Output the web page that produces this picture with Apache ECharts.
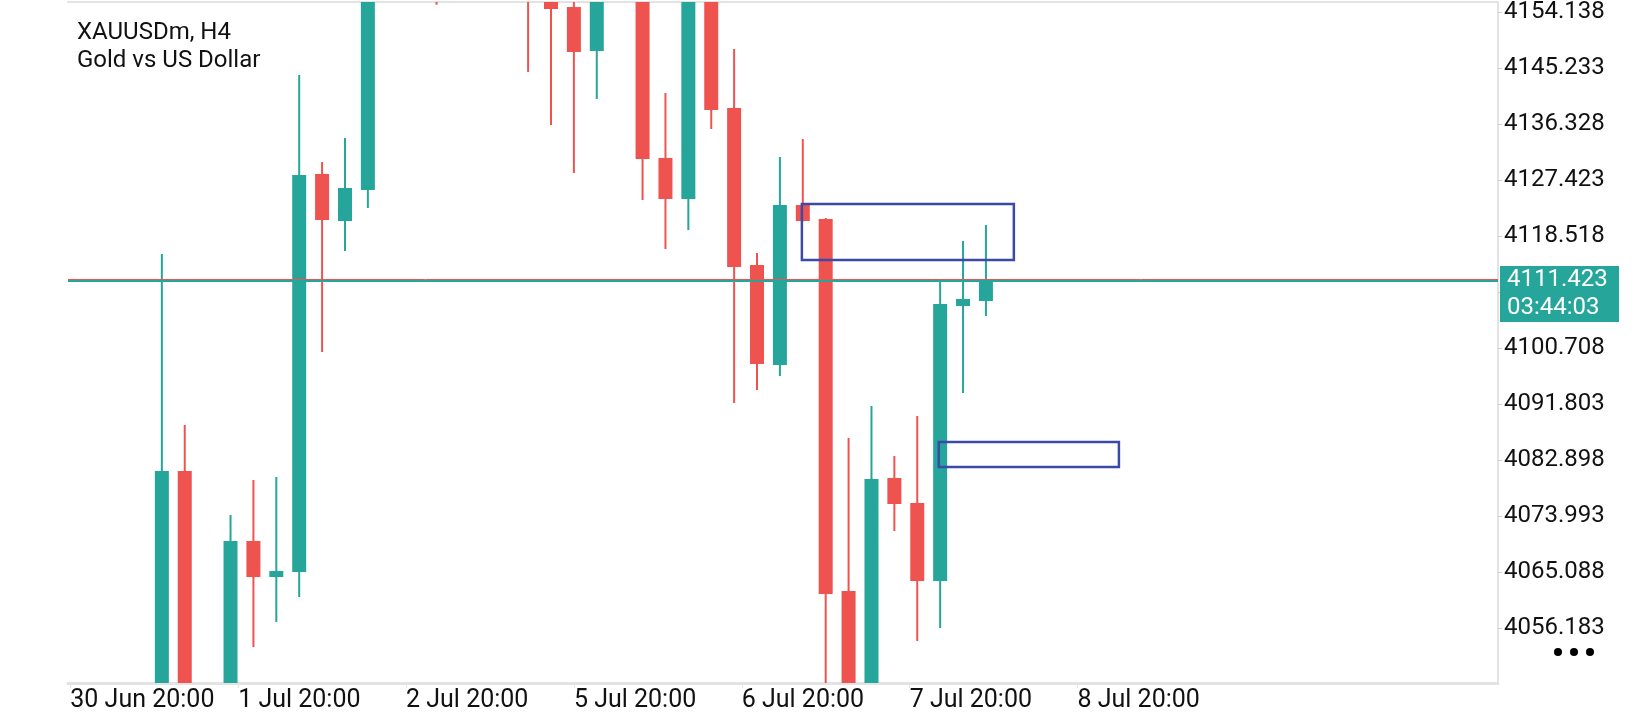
<!DOCTYPE html>
<html>
<head>
<meta charset="utf-8">
<title>XAUUSDm, H4</title>
<script src="https://cdn.jsdelivr.net/npm/echarts@6.0.0/dist/echarts.min.js"></script>
<style>
html, body { margin: 0; padding: 0; background: #fff; }
#chart { width: 1640px; height: 720px; }
</style>
</head>
<body>
<div id="chart"></div>
<script>
var dom = document.getElementById('chart');
var myChart = echarts.init(dom);

// H4 bar slots, counted from the left edge of the chart
var barSlot    = [4, 5, 7, 8, 9, 10, 11, 12, 13, 16, 20, 21, 22, 23, 25, 26, 27, 28, 29, 30, 31, 32, 33, 34, 35, 36, 37, 38, 39, 40];
var openPrice  = [4038, 4081.15, 4044, 4070.02, 4064.29, 4065.09, 4128.38, 4120.90, 4125.83, 4165, 4170, 4162, 4154.93, 4147.94, 4158, 4130.92, 4124.40, 4158, 4138.87, 4113.91, 4098.01, 4123.45, 4121.22, 4062.07, 4040, 4080.04, 4076.06, 4063.66, 4107.39, 4108.18];
var closePrice = [4081.15, 4040, 4070.02, 4064.29, 4065.25, 4128.22, 4121.06, 4126.15, 4158, 4160, 4158, 4154.62, 4147.78, 4160, 4130.76, 4124.40, 4160, 4138.56, 4113.59, 4098.16, 4123.45, 4120.90, 4061.59, 4038, 4079.88, 4075.90, 4063.66, 4107.71, 4108.50, 4111.423];
var lowPrice   = [4035, 4036, 4042, 4053.16, 4057.14, 4061.11, 4100.07, 4116.13, 4122.97, 4155.3, 4144.60, 4136.17, 4128.54, 4140.30, 4124.24, 4116.45, 4119.47, 4135.53, 4091.96, 4094.03, 4096.26, 4120.85, 4040, 4035, 4036, 4071.61, 4054.12, 4056.18, 4093.55, 4105.80];
var highPrice  = [4115.66, 4088.46, 4074.15, 4079.72, 4080.20, 4144.12, 4130.29, 4134.10, 4160, 4168, 4172, 4164, 4157, 4163, 4160, 4141.26, 4162, 4160, 4148.26, 4115.82, 4131.08, 4133.94, 4121.38, 4086.40, 4091.49, 4083.54, 4089.90, 4111.20, 4117.72, 4120.27];

// time scale labels (one every 22/3 bar slots)
var timeLabels = ['30 Jun 20:00', '1 Jul 20:00', '2 Jul 20:00', '5 Jul 20:00', '6 Jul 20:00', '7 Jul 20:00', '8 Jul 20:00'];
var timeLabelStep = 22 / 3;

// price scale
var priceTicks = [4154.138, 4145.233, 4136.328, 4127.423, 4118.518, 4109.613, 4100.708, 4091.803, 4082.898, 4073.993, 4065.088, 4056.183];
var bidPrice = 4111.423;
var askPrice = 4111.68;
var barTimer = '03:44:03';

// drawn rectangles: [slotFrom, priceTop, slotTo, priceBottom]
var zones = [
    [31.96, 4123.61, 41.22, 4114.70],
    [37.94, 4085.76, 45.81, 4081.79]
];

var xMin = -0.1, xMax = 62.37;
var yMin = 4047.44, yMax = 4155.73;

var TEAL = '#26a69a', RED = '#ef5350', FRAME = '#e3e3e3', INK = '#111';
var FONT = 'Roboto';
var BODY_W = 14;

var candles = barSlot.map(function (s, i) {
    return [s, openPrice[i], closePrice[i], lowPrice[i], highPrice[i]];
});
var labelSlots = timeLabels.map(function (t, k) { return k * timeLabelStep; });

// wick + body; the series is clipped to the grid so bars leaving the range are cut
function renderCandle(params, api) {
    var slot = api.value(0);
    var o = api.value(1), c = api.value(2), l = api.value(3), h = api.value(4);
    var hi = api.coord([slot, h]);
    var lo = api.coord([slot, l]);
    var top = api.coord([slot, Math.max(o, c)]);
    var bot = api.coord([slot, Math.min(o, c)]);
    var color = c >= o ? TEAL : RED;
    return {
        type: 'group',
        children: [{
            type: 'line',
            shape: { x1: hi[0], y1: hi[1], x2: lo[0], y2: lo[1] },
            style: { stroke: color, lineWidth: 2 }
        }, {
            type: 'rect',
            shape: { x: top[0] - BODY_W / 2, y: top[1], width: BODY_W, height: Math.max(bot[1] - top[1], 2) },
            style: { fill: color }
        }]
    };
}

var option = {
    animation: false,
    backgroundColor: '#fff',
    title: {
        text: 'XAUUSDm, H4\nGold vs US Dollar',
        left: 77,
        top: 19,
        padding: 0,
        textStyle: { fontFamily: FONT, fontSize: 24, fontWeight: 'normal', lineHeight: 28, color: INK }
    },
    grid: { left: 68, right: 142, top: 2, bottom: 37, outerBoundsMode: 'none' },
    xAxis: [{
        type: 'value',
        min: xMin,
        max: xMax,
        position: 'bottom',
        axisLine: { show: true, onZero: false, lineStyle: { color: FRAME, width: 3 } },
        axisTick: { show: true, customValues: labelSlots, length: 5, lineStyle: { color: FRAME, width: 1 } },
        axisLabel: {
            customValues: labelSlots,
            formatter: function (v) { return timeLabels[Math.round(v / timeLabelStep)]; },
            align: 'left',
            margin: 5,
            fontFamily: FONT,
            fontSize: 25,
            color: INK
        },
        splitLine: { show: false }
    }, {
        type: 'value',
        min: xMin,
        max: xMax,
        position: 'top',
        axisLine: { show: true, onZero: false, lineStyle: { color: FRAME, width: 2 } },
        axisTick: { show: false },
        axisLabel: { show: false },
        splitLine: { show: false }
    }],
    yAxis: {
        type: 'value',
        position: 'right',
        min: yMin,
        max: yMax,
        axisLine: { show: true, onZero: false, lineStyle: { color: FRAME, width: 2 } },
        axisTick: { show: true, customValues: priceTicks, length: 4, lineStyle: { color: '#cccccc' } },
        axisLabel: {
            customValues: priceTicks,
            formatter: function (v) { return v.toFixed(3); },
            margin: 6,
            fontFamily: FONT,
            fontSize: 24,
            color: INK
        },
        splitLine: { show: false }
    },
    graphic: [1558, 1574, 1590].map(function (cx) {
        return { type: 'circle', shape: { cx: cx, cy: 652, r: 4 }, style: { fill: '#000' } };
    }),
    series: [{
        type: 'custom',
        xAxisIndex: 0,
        data: candles,
        encode: { x: 0, y: [1, 2, 3, 4] },
        clip: true,
        renderItem: renderCandle,
        markLine: {
            silent: true,
            symbol: ['none', 'none'],
            label: { show: false },
            data: [
                { yAxis: askPrice, lineStyle: { color: RED, width: 1, type: 'solid' } },
                { yAxis: bidPrice, lineStyle: { color: TEAL, width: 2, type: 'solid' } }
            ]
        },
        markArea: {
            silent: true,
            z: 5,
            itemStyle: { color: 'rgba(0,0,0,0)', borderColor: '#3b4aa6', borderWidth: 2.5 },
            data: zones.map(function (z) {
                return [{ coord: [z[0], z[1]] }, { coord: [z[2], z[3]] }];
            })
        },
        markPoint: {
            silent: true,
            data: [{
                coord: [xMax, bidPrice],
                symbol: 'rect',
                symbolSize: [119, 56],
                symbolOffset: [61.5, 13.4],
                itemStyle: { color: TEAL },
                label: {
                    show: true,
                    position: 'insideLeft',
                    distance: 7,
                    formatter: bidPrice.toFixed(3) + '\n' + barTimer,
                    color: '#fff',
                    fontFamily: FONT,
                    fontSize: 24,
                    lineHeight: 28
                }
            }]
        }
    }]
};

myChart.setOption(option);
</script>
</body>
</html>
